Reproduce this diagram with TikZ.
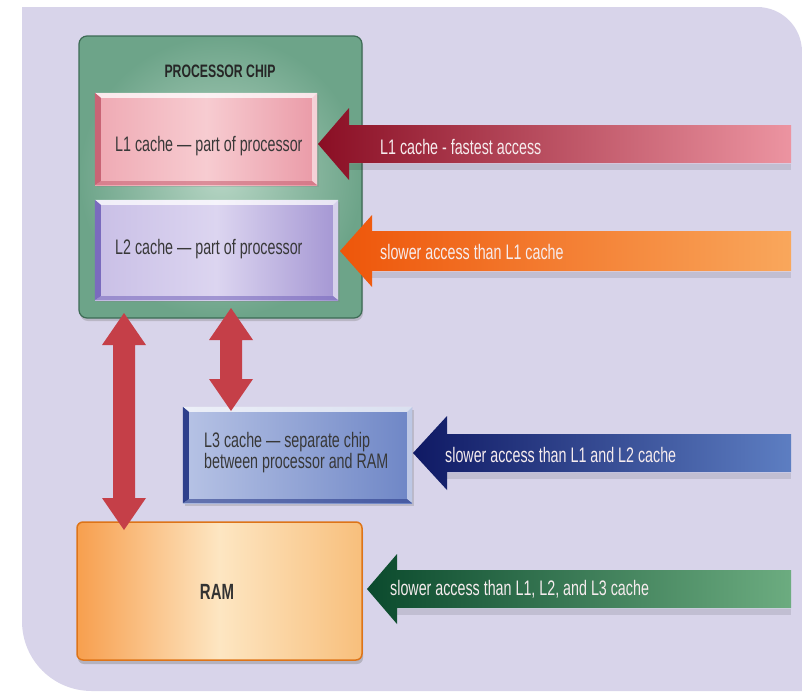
\documentclass[tikz,border=0pt]{standalone}
\usepackage{fontspec}
\setmainfont{Liberation Sans}[FakeStretch=0.68]
\usetikzlibrary{calc,shadows}
\definecolor{bg}{HTML}{D8D4EA}
\definecolor{chipborder}{HTML}{3D6B55}
\definecolor{chipin}{HTML}{B6D5C4}
\definecolor{chipout}{HTML}{6DA489}
\definecolor{boxtext}{HTML}{383838}
\definecolor{dblred}{HTML}{C53F48}
\definecolor{arrtext}{HTML}{F6ECEE}
\definecolor{lia}{HTML}{EFA9B3}\definecolor{lib}{HTML}{F7CCD1}\definecolor{lic}{HTML}{EA9AA7}\definecolor{lid}{HTML}{C96475}
\definecolor{lta}{HTML}{C9BFE6}\definecolor{ltb}{HTML}{DCD5F0}\definecolor{ltc}{HTML}{A496D3}\definecolor{ltd}{HTML}{7A6BBE}
\definecolor{lha}{HTML}{B7C3E5}\definecolor{lhc}{HTML}{6E86C6}\definecolor{lhd}{HTML}{2E3F8C}
\definecolor{rama}{HTML}{F79F4E}\definecolor{ramb}{HTML}{FDE6C2}\definecolor{ramc}{HTML}{F8BF7C}\definecolor{ramd}{HTML}{DE7418}
\definecolor{aoneL}{HTML}{8A0E24}\definecolor{aoneR}{HTML}{EC94A1}
\definecolor{atwoL}{HTML}{EE560A}\definecolor{atwoR}{HTML}{F9A75C}
\definecolor{athrL}{HTML}{0F1964}\definecolor{athrR}{HTML}{5D7EC2}
\definecolor{afouL}{HTML}{0B4A2D}\definecolor{afouR}{HTML}{6CAC80}
\newcommand\bevel[2]{%
  \fill[white,opacity=.75] (#1.north west) -- (#1.north east) -- ([shift={(-5pt,-5pt)}]#1.north east) -- ([shift={(6pt,-5pt)}]#1.north west) -- cycle;
  \fill[white,opacity=.55] (#1.north east) -- (#1.south east) -- ([shift={(-5pt,4pt)}]#1.south east) -- ([shift={(-5pt,-5pt)}]#1.north east) -- cycle;
  \fill[#2] (#1.north west) -- ([shift={(6pt,-5pt)}]#1.north west) -- ([shift={(6pt,4pt)}]#1.south west) -- (#1.south west) -- cycle;
  \fill[#2,opacity=.6] (#1.south west) -- ([shift={(6pt,4pt)}]#1.south west) -- ([shift={(-5pt,4pt)}]#1.south east) -- (#1.south east) -- cycle;}
% #1 tip, #2 far end, #3 head length, #4 head half, #5 body half, #6 left colour, #7 right colour
\newcommand\fatarrow[7]{%
  \fill[black,opacity=.10] let \p1=(#1),\p2=(#2) in
    (\x1+#3,\y1-#5-1pt) -- (\x2,\y1-#5-1pt) -- (\x2,\y1-#5-7pt) -- (\x1+#3,\y1-#5-7pt) -- cycle;
  \shade[left color=#6,right color=#7] let \p1=(#1),\p2=(#2) in
    (\x1,\y1) -- (\x1+#3,\y1+#4) -- (\x1+#3,\y1+#5) -- (\x2,\y1+#5) -- (\x2,\y1-#5)
    -- (\x1+#3,\y1-#5) -- (\x1+#3,\y1-#4) -- cycle;}
% #1 top tip, #2 bottom tip
\newcommand\dblarrow[2]{%
  \fill[dblred] let \p1=(#1),\p2=(#2) in
    (\x1,\y1) -- (\x1+22pt,\y1-32pt) -- (\x1+11pt,\y1-32pt) -- (\x1+11pt,\y2+32pt)
    -- (\x1+22pt,\y2+32pt) -- (\x2,\y2) -- (\x1-22pt,\y2+32pt) -- (\x1-11pt,\y2+32pt)
    -- (\x1-11pt,\y1-32pt) -- (\x1-22pt,\y1-32pt) -- cycle;}
\begin{document}
\begin{tikzpicture}[x=1pt,y=-1pt,
  boxtxt/.style={text=boxtext,font=\fontsize{21}{23}\selectfont,inner sep=0pt},
  arrtxt/.style={text=arrtext,font=\fontsize{21}{23}\selectfont,inner sep=0pt,anchor=west},
  cachebox/.style={minimum width=#1,inner sep=0pt},
  ]
\useasboundingbox (0,0) rectangle (802,691);
\fill[white] (0,0) rectangle (802,691);
\fill[bg] (22,7) -- (757,7) .. controls (782,7) and (802,27) .. (802,52) -- (802,691)
  -- (92,691) .. controls (53,691) and (22,660) .. (22,621) -- cycle;

% processor chip
\node[draw=chipborder,line width=1.2pt,rounded corners=8pt,inner color=chipin,outer color=chipout,
  minimum width=283pt,minimum height=282pt,drop shadow={opacity=.35,shadow xshift=1pt,shadow yshift=-3pt}] (chip) at (220.5,177) {};
\node[text=black!85,font=\fontsize{18}{20}\selectfont\bfseries] (title) at (220,71) {PROCESSOR CHIP};

% L1
\node[cachebox=222pt,minimum height=92pt,left color=lia,right color=lic,middle color=lib,
  drop shadow={opacity=.25,shadow xshift=2pt,shadow yshift=-2pt}] (l1) at (206,139) {};
\bevel{l1}{lid}
\node[boxtxt,anchor=west] (l1t) at (115,146) {L1 cache — part of processor};

% L2
\node[cachebox=243pt,minimum height=100pt,left color=lta,right color=ltc,middle color=ltb,
  drop shadow={opacity=.25,shadow xshift=2pt,shadow yshift=-2pt}] (l2) at (216.5,250) {};
\bevel{l2}{ltd}
\node[boxtxt,anchor=west] (l2t) at (115,249) {L2 cache — part of processor};

% L3
\node[cachebox=229pt,minimum height=96pt,left color=lha,right color=lhc,
  drop shadow={opacity=.3,shadow xshift=2pt,shadow yshift=-3pt}] (l3) at (297.5,455) {};
\bevel{l3}{lhd}
\node[boxtxt,anchor=west,align=left,font=\fontsize{21}{21}\selectfont] (l3t) at (204,453) {L3 cache — separate chip\\between processor and RAM};

% RAM
\node[draw=ramd,line width=1.5pt,rounded corners=6pt,left color=rama,right color=ramc,middle color=ramb,
  minimum width=285pt,minimum height=138pt,drop shadow={opacity=.4,shadow xshift=1pt,shadow yshift=-4pt}] (ram) at (219.5,591) {};
\node[text=black!80,font=\fontsize{22}{24}\selectfont\bfseries] (ramt) at (217,592) {RAM};

% double arrows
\coordinate (d1t) at (124,313);
\coordinate (d1b) at (124,530);
\coordinate (d2t) at (231,308);
\coordinate (d2b) at (231,411);
\dblarrow{d1t}{d1b}
\dblarrow{d2t}{d2b}

% access arrows
\coordinate (a1tip) at (318,144); \coordinate (a1end) at (791,144);
\coordinate (a2tip) at (340,251); \coordinate (a2end) at (791,251);
\coordinate (a3tip) at (413,453); \coordinate (a3end) at (791,453);
\coordinate (a4tip) at (367,589); \coordinate (a4end) at (791,589);
\fatarrow{a1tip}{a1end}{31pt}{36pt}{19pt}{aoneL}{aoneR}
\fatarrow{a2tip}{a2end}{32pt}{36pt}{20pt}{atwoL}{atwoR}
\fatarrow{a3tip}{a3end}{34pt}{37pt}{19pt}{athrL}{athrR}
\fatarrow{a4tip}{a4end}{30pt}{35pt}{19pt}{afouL}{afouR}
\node[arrtxt] (a1t) at (380,147) {L1 cache - fastest access};
\node[arrtxt] (a2t) at (380,252) {slower access than L1 cache};
\node[arrtxt] (a3t) at (445,455) {slower access than L1 and L2 cache};
\node[arrtxt] (a4t) at (390,589) {slower access than L1, L2, and L3 cache};
\end{tikzpicture}
\end{document}
